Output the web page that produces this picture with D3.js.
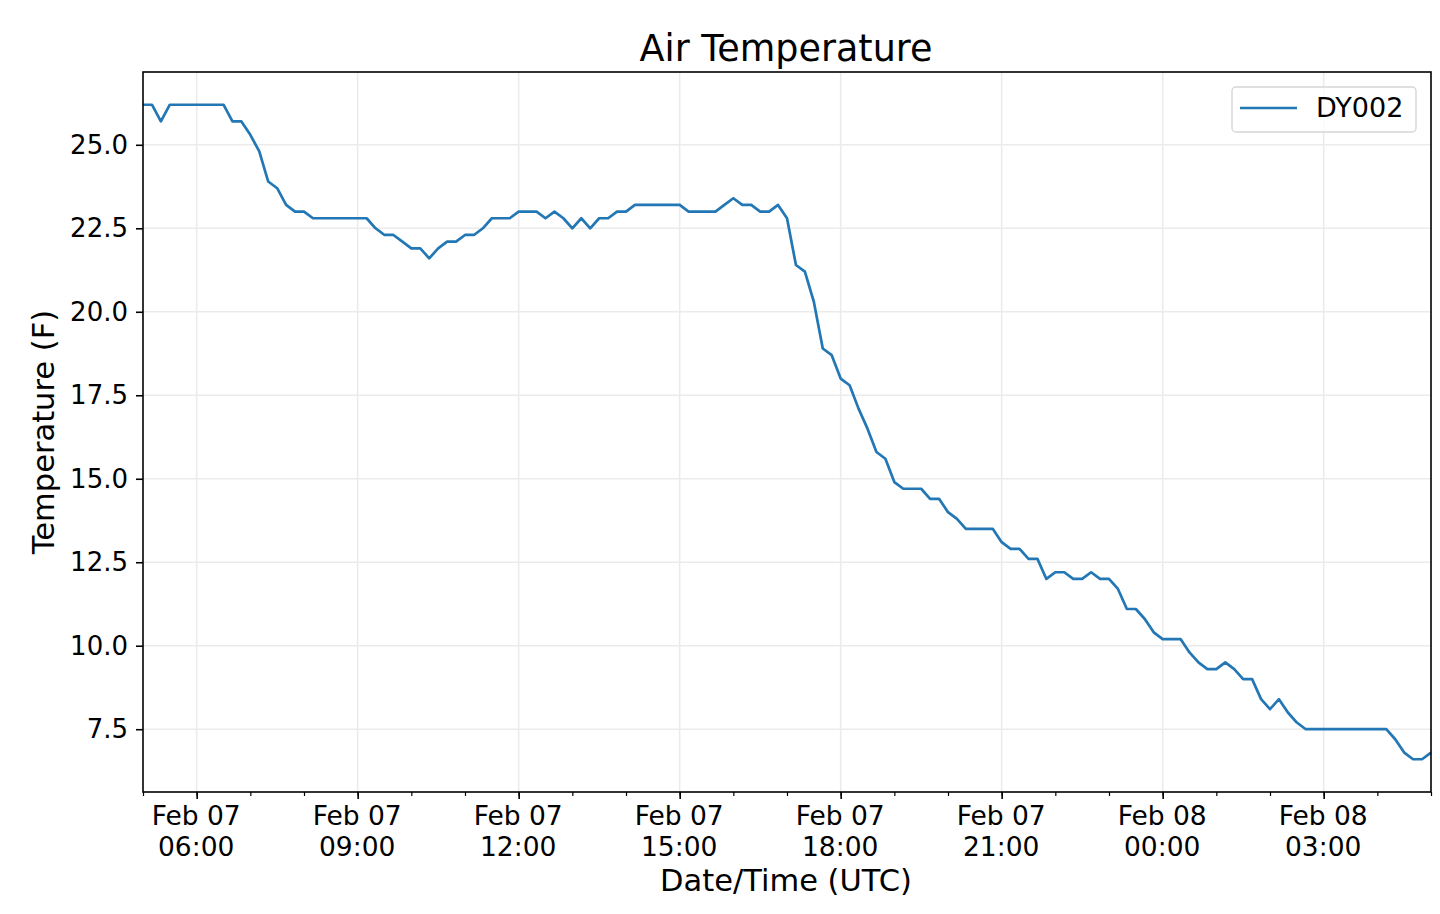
<!DOCTYPE html>
<html>
<head>
<meta charset="utf-8">
<script src="https://cdn.jsdelivr.net/npm/d3@7"></script>
<style>
    body { margin: 0; background: #ffffff; }
    text { font-family: "DejaVu Sans", sans-serif; fill: #000000; }
</style>
</head>
<body>
<div id="tempChart"></div>
<script>
// station series, 10-minute readings from Feb 07 05:00 UTC
var seriesName = "DY002";
var startTime = "2019-02-07T05:00:00Z";
var endTime = "2019-02-08T05:00:00Z";
var temps = [
    26.2, 26.2, 25.7, 26.2, 26.2, 26.2, 26.2, 26.2, 26.2, 26.2,
    25.7, 25.7, 25.3, 24.8, 23.9, 23.7, 23.2, 23.0, 23.0, 22.8,
    22.8, 22.8, 22.8, 22.8, 22.8, 22.8, 22.5, 22.3, 22.3, 22.1,
    21.9, 21.9, 21.6, 21.9, 22.1, 22.1, 22.3, 22.3, 22.5, 22.8,
    22.8, 22.8, 23.0, 23.0, 23.0, 22.8, 23.0, 22.8, 22.5, 22.8,
    22.5, 22.8, 22.8, 23.0, 23.0, 23.2, 23.2, 23.2, 23.2, 23.2,
    23.2, 23.0, 23.0, 23.0, 23.0, 23.2, 23.4, 23.2, 23.2, 23.0,
    23.0, 23.2, 22.8, 21.4, 21.2, 20.3, 18.9, 18.7, 18.0, 17.8,
    17.1, 16.5, 15.8, 15.6, 14.9, 14.7, 14.7, 14.7, 14.4, 14.4,
    14.0, 13.8, 13.5, 13.5, 13.5, 13.5, 13.1, 12.9, 12.9, 12.6,
    12.6, 12.0, 12.2, 12.2, 12.0, 12.0, 12.2, 12.0, 12.0, 11.7,
    11.1, 11.1, 10.8, 10.4, 10.2, 10.2, 10.2, 9.8, 9.5, 9.3,
    9.3, 9.5, 9.3, 9.0, 9.0, 8.4, 8.1, 8.4, 8.0, 7.7,
    7.5, 7.5, 7.5, 7.5, 7.5, 7.5, 7.5, 7.5, 7.5, 7.5,
    7.2, 6.8, 6.6, 6.6, 6.8
];
var yTicks = [7.5, 10.0, 12.5, 15.0, 17.5, 20.0, 22.5, 25.0];

// SVG drawing area
var margin = {top: 72, right: 9, bottom: 122, left: 143};
var width = 1440 - margin.left - margin.right;
var height = 914 - margin.top - margin.bottom;

var svgRoot = d3.select("#tempChart").append("svg")
    .attr("width", 1440)
    .attr("height", 914);

var svg = svgRoot.append("g")
    .attr("transform", "translate(" + margin.left + "," + margin.top + ")");

var t0 = new Date(startTime);
var t1 = new Date(endTime);
var times = d3.utcMinute.every(10).range(t0, new Date(+t1 + 1));

var data = temps.map(function (v, i) {
    return {time: times[i], temp: v};
});

var x = d3.scaleUtc()
    .domain([t0, t1])
    .range([0, width]);

// 5% padding like the original plot
var ext = d3.extent(temps);
var pad = (ext[1] - ext[0]) * 0.05;
var y = d3.scaleLinear()
    .domain([ext[0] - pad, ext[1] + pad])
    .range([height, 0]);

var majorTicks = d3.utcHour.every(3).range(t0, t1).filter(function (d) {
    return d.getUTCHours() % 3 === 0;
});
var minorTicks = d3.utcHour.range(t0, new Date(+t1 + 1));

// grid
svg.append("g")
    .attr("class", "grid")
    .selectAll("line.vgrid")
    .data(majorTicks)
    .enter()
    .append("line")
    .attr("x1", function (d) { return x(d); })
    .attr("x2", function (d) { return x(d); })
    .attr("y1", 0)
    .attr("y2", height)
    .attr("stroke", "#ebebeb")
    .attr("stroke-width", 1.6);

svg.select(".grid")
    .selectAll("line.hgrid")
    .data(yTicks)
    .enter()
    .append("line")
    .attr("x1", 0)
    .attr("x2", width)
    .attr("y1", function (d) { return y(d); })
    .attr("y2", function (d) { return y(d); })
    .attr("stroke", "#ebebeb")
    .attr("stroke-width", 1.6);

// temperature line
var line = d3.line()
    .x(function (d) { return x(d.time); })
    .y(function (d) { return y(d.temp); });

svg.append("path")
    .datum(data)
    .attr("fill", "none")
    .attr("stroke", "#2277b4")
    .attr("stroke-width", 2.7)
    .attr("stroke-linejoin", "round")
    .attr("d", line);

// frame
svg.append("rect")
    .attr("x", 0)
    .attr("y", 0)
    .attr("width", width)
    .attr("height", height)
    .attr("fill", "none")
    .attr("stroke", "#000000")
    .attr("stroke-width", 1.6);

// x axis
var fmtDay = d3.utcFormat("%b %d");
var fmtTime = d3.utcFormat("%H:%M");

var xAxis = svg.append("g")
    .attr("transform", "translate(0," + height + ")")
    .call(d3.axisBottom(x)
        .tickValues(majorTicks)
        .tickSize(7)
        .tickSizeOuter(0)
        .tickFormat(""));

xAxis.select(".domain").remove();
xAxis.selectAll(".tick line").attr("stroke", "#000000").attr("stroke-width", 1.6);

var xLabels = xAxis.selectAll(".tick text")
    .attr("y", 0)
    .attr("dy", null)
    .style("font-size", "26.5px");

xLabels.append("tspan")
    .attr("x", -1)
    .attr("y", 33)
    .text(function (d) { return fmtDay(d); });
xLabels.append("tspan")
    .attr("x", -1)
    .attr("y", 64)
    .text(function (d) { return fmtTime(d); });

var xMinor = svg.append("g")
    .attr("transform", "translate(0," + height + ")")
    .call(d3.axisBottom(x)
        .tickValues(minorTicks)
        .tickSize(4)
        .tickSizeOuter(0)
        .tickFormat(""));
xMinor.select(".domain").remove();
xMinor.selectAll(".tick line").attr("stroke", "#000000").attr("stroke-width", 1.2);

// y axis
var yAxis = svg.append("g")
    .call(d3.axisLeft(y)
        .tickValues(yTicks)
        .tickSize(7)
        .tickSizeOuter(0)
        .tickPadding(8)
        .tickFormat(d3.format(".1f")));

yAxis.select(".domain").remove();
yAxis.selectAll(".tick line").attr("stroke", "#000000").attr("stroke-width", 1.6);
yAxis.selectAll(".tick text")
    .style("font-size", "26px");

// labels
svgRoot.append("text")
    .attr("x", margin.left + width / 2 - 1)
    .attr("y", 61)
    .attr("text-anchor", "middle")
    .style("font-size", "36.5px")
    .text("Air Temperature");

svgRoot.append("text")
    .attr("x", margin.left + width / 2 - 1)
    .attr("y", 891)
    .attr("text-anchor", "middle")
    .style("font-size", "30.5px")
    .text("Date/Time (UTC)");

svgRoot.append("text")
    .attr("transform", "translate(54," + (margin.top + height / 2) + ") rotate(-90)")
    .attr("text-anchor", "middle")
    .style("font-size", "30.5px")
    .text("Temperature (F)");

// legend
var legend = svgRoot.append("g")
    .attr("transform", "translate(1232,87)");

legend.append("rect")
    .attr("width", 184)
    .attr("height", 45)
    .attr("rx", 4)
    .attr("fill", "#ffffff")
    .attr("fill-opacity", 0.8)
    .attr("stroke", "#d6d6d6")
    .attr("stroke-width", 1.4);

legend.append("line")
    .attr("x1", 8)
    .attr("x2", 65)
    .attr("y1", 21)
    .attr("y2", 21)
    .attr("stroke", "#2277b4")
    .attr("stroke-width", 2.7);

legend.append("text")
    .attr("x", 84)
    .attr("y", 30)
    .style("font-size", "27px")
    .text(seriesName);
</script>
</body>
</html>
